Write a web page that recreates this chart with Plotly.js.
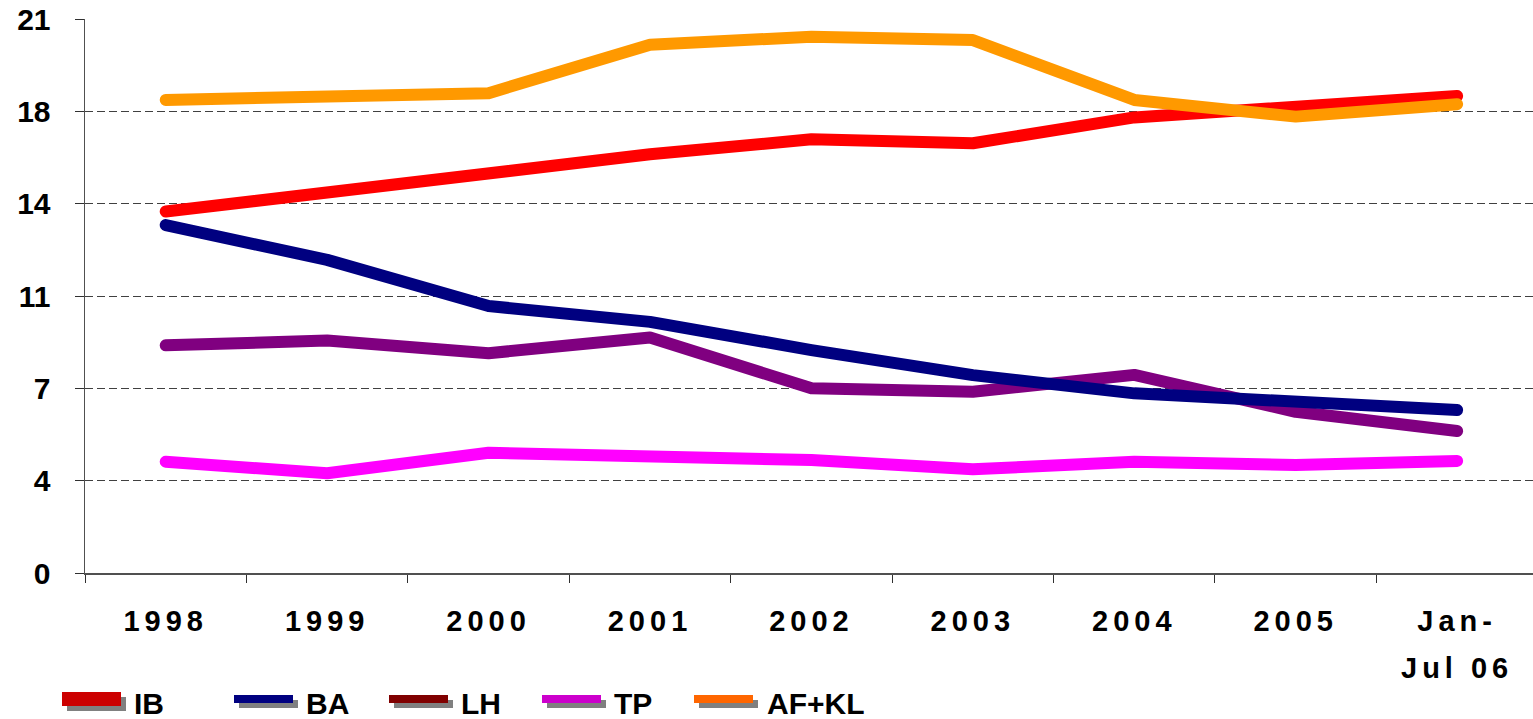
<!DOCTYPE html>
<html>
<head>
<meta charset="utf-8">
<script src="https://cdn.plot.ly/plotly-3.0.1.min.js"></script>
<style>
  html, body { margin: 0; padding: 0; background: #fff; overflow: hidden; }
  #chart { width: 1533px; height: 719px; }
  .scatterlayer path.js-line { stroke-linecap: round !important; stroke-linejoin: round !important; }
  .xtick text { letter-spacing: 5px; }
</style>
</head>
<body>
<div id="chart"></div>
<script>
// ---- data ----
const categories = ["1998", "1999", "2000", "2001", "2002", "2003", "2004", "2005", "Jan-<br>Jul 06"];
const IB   = [13.70, 14.42, 15.13, 15.87, 16.44, 16.29, 17.27, 17.65, 18.08];
const BA   = [13.19, 11.87, 10.12, 9.52, 8.45, 7.50, 6.81, 6.49, 6.18];
const LH   = [8.63, 8.81, 8.33, 8.93, 7.00, 6.87, 7.51, 6.11, 5.38];
const TP   = [4.22, 3.78, 4.56, 4.37, 4.28, 3.93, 4.22, 4.09, 4.25];
const AFKL = [17.93, 18.03, 18.19, 20.02, 20.33, 20.20, 17.93, 17.30, 17.77];
const yTickVals = [0, 3.5, 7, 10.5, 14, 17.5, 21];
const yTickText = ["0", "4", "7", "11", "14", "18", "21"];
const seriesNames = ["IB", "BA", "LH", "TP", "AF+KL"];

// ---- styles ----
const lineColors = { "IB": "#FF0000", "BA": "#000080", "LH": "#800080", "TP": "#FF00FF", "AF+KL": "#FF9900" };
const legendColors = { "IB": "#CC0000", "BA": "#000080", "LH": "#800000", "TP": "#CC00CC", "AF+KL": "#FF6600" };
const seriesData = { "IB": IB, "BA": BA, "LH": LH, "TP": TP, "AF+KL": AFKL };
const drawOrder = ["LH", "IB", "BA", "TP", "AF+KL"];

const W = 1533, H = 719;
const M = { l: 85, r: 0, t: 19, b: 146 };
const plotW = W - M.l - M.r, plotH = H - M.t - M.b;
const px2x = px => (px - M.l) / plotW;
const px2y = py => (H - M.b - py) / plotH;

const traces = drawOrder.map(name => ({
  type: "scatter",
  mode: "lines",
  name: name,
  x: categories,
  y: seriesData[name],
  line: { color: lineColors[name], width: 12 },
  showlegend: false,
  hoverinfo: "skip"
}));

// legend layout (pixel positions)
const legendItems = [
  { name: "IB", x0: 62, y0: 692, y1: 706, tx: 134 },
  { name: "BA", x0: 234, y0: 695, y1: 703, tx: 306 },
  { name: "LH", x0: 389, y0: 695, y1: 703, tx: 461 },
  { name: "TP", x0: 542, y0: 695, y1: 703, tx: 614 },
  { name: "AF+KL", x0: 694, y0: 695, y1: 703, tx: 767 }
];
const swW = 59, shOff = 5;
const shapes = [];
const annotations = [];
legendItems.forEach(it => {
  shapes.push({
    type: "rect", xref: "paper", yref: "paper", layer: "above",
    x0: px2x(it.x0 + shOff), x1: px2x(it.x0 + swW + shOff),
    y0: px2y(it.y0 + shOff), y1: px2y(it.y1 + shOff),
    fillcolor: "#808080", line: { width: 0 }
  });
  shapes.push({
    type: "rect", xref: "paper", yref: "paper", layer: "above",
    x0: px2x(it.x0), x1: px2x(it.x0 + swW),
    y0: px2y(it.y0), y1: px2y(it.y1),
    fillcolor: legendColors[it.name], line: { width: 0 }
  });
  annotations.push({
    xref: "paper", yref: "paper", x: px2x(it.tx - 2), y: px2y(703),
    xanchor: "left", yanchor: "middle", showarrow: false,
    text: it.name,
    font: { family: "Liberation Sans, Arial, sans-serif", size: 30, color: "#000", weight: "bold" }
  });
});

const layout = {
  width: W, height: H,
  margin: M,
  paper_bgcolor: "#fff",
  plot_bgcolor: "#fff",
  showlegend: false,
  font: { family: "Liberation Sans, Arial, sans-serif", color: "#000" },
  xaxis: {
    type: "category",
    range: [-0.5, 8.47],
    tickson: "boundaries",
    ticks: "outside", ticklen: 8, tickcolor: "#303030", tickwidth: 1,
    showline: true, linecolor: "#505050", linewidth: 1.5,
    showgrid: false, zeroline: false,
    tickfont: { size: 29, color: "#000", weight: "bold" },
    ticklabelstandoff: 22,
    fixedrange: true
  },
  yaxis: {
    range: [0, 21],
    tickvals: yTickVals,
    ticktext: yTickText,
    ticks: "outside", ticklen: 9, tickcolor: "#303030", tickwidth: 1,
    showline: true, linecolor: "#505050", linewidth: 1.5,
    showgrid: true, gridcolor: "#404040", gridwidth: 1, griddash: "8px,4px",
    zeroline: false,
    tickfont: { size: 30, color: "#000", weight: "bold" },
    ticklabelstandoff: 18,
    fixedrange: true
  },
  shapes: shapes,
  annotations: annotations
};

Plotly.newPlot("chart", traces, layout, { staticPlot: true, displayModeBar: false }).then(gd => {
  // widen the line spacing of the two-line category label
  gd.querySelectorAll(".xtick text").forEach(txt => {
    const lines = txt.querySelectorAll("tspan.line");
    for (let k = 1; k < lines.length; k++) lines[k].setAttribute("dy", "1.62em");
  });
});
</script>
</body>
</html>
